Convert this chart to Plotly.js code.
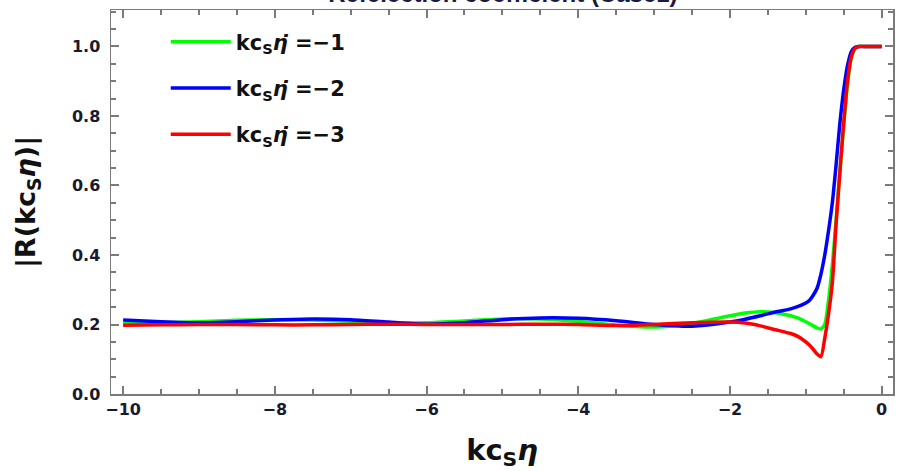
<!DOCTYPE html>
<html>
<head>
<meta charset="utf-8">
<script src="https://cdn.plot.ly/plotly-3.0.1.min.js"></script>
<style>html,body{margin:0;padding:0;background:#fff;}#chart{width:898px;height:471px;}</style>
</head>
<body>
<div id="chart"></div>
<script>
const xVals = [-10,-9.5,-9,-8.5,-8,-7.5,-7,-6.5,-6,-5.5,-5,-4.5,-4,-3.5,-3,-2.5,-2,-1.8,-1.6,-1.4,-1.2,-1.1,-1.0,-0.95,-0.9,-0.85,-0.8,-0.75,-0.7,-0.65,-0.6,-0.55,-0.5,-0.45,-0.4,-0.35,-0.3,-0.2,-0.1,0];
const greenR = [0.203,0.205,0.208,0.212,0.214,0.213,0.209,0.205,0.205,0.210,0.216,0.216,0.209,0.198,0.193,0.203,0.225,0.233,0.237,0.234,0.225,0.218,0.208,0.202,0.196,0.190,0.187,0.200,0.270,0.370,0.500,0.640,0.770,0.890,0.965,0.995,1.0,1.0,1.0,1.0];
const blueR  = [0.213,0.208,0.205,0.208,0.213,0.216,0.214,0.207,0.201,0.205,0.214,0.219,0.218,0.211,0.200,0.195,0.207,0.215,0.225,0.236,0.245,0.252,0.262,0.270,0.285,0.305,0.345,0.400,0.470,0.550,0.660,0.780,0.875,0.945,0.985,0.998,1.0,1.0,1.0,1.0];
const redR   = [0.198,0.199,0.200,0.200,0.199,0.199,0.200,0.201,0.200,0.200,0.200,0.201,0.200,0.197,0.200,0.205,0.207,0.204,0.196,0.185,0.174,0.165,0.150,0.140,0.128,0.115,0.107,0.160,0.230,0.320,0.490,0.640,0.780,0.900,0.970,0.995,1.0,1.0,1.0,1.0];
const seriesNames = ["kc<sub>S</sub><i>η̇</i> =−1","kc<sub>S</sub><i>η̇</i> =−2","kc<sub>S</sub><i>η̇</i> =−3"];
const seriesColors = ["#00ff00","#0000ff","#ff0000"];
const xTickVals = [-10,-8,-6,-4,-2,0];
const xTickText = ["−10","−8","−6","−4","−2","0"];
const yTickVals = [0,0.2,0.4,0.6,0.8,1.0];
const yTickText = ["0.0","0.2","0.4","0.6","0.8","1.0"];
const xRange = [-10.16,0.15];
const yRange = [0,1.105];

const ys = [greenR, blueR, redR];
const traces = ys.map((y,i)=>({
  x: xVals, y: y, type:'scatter', mode:'lines',
  name: seriesNames[i], legendgroup: 'g'+i,
  line:{color: seriesColors[i], width:3.5, shape:'spline', smoothing:0.6}
}));

const tickCol = '#7a7a7a';
const axisCommon = {
  showgrid:false, zeroline:false, showline:true, linecolor:tickCol, linewidth:1.5,
  mirror:'allticks', ticks:'inside', ticklen:8, tickwidth:2, tickcolor:tickCol,
  tickfont:{family:'DejaVu Sans', size:16, color:'#1a1a2e', weight:'bold'}
};

const layout = {
  width:898, height:471,
  margin:{l:111, r:5, t:10, b:77},
  paper_bgcolor:'#fff', plot_bgcolor:'#fff',
  title:{text:'Refelection coefficient (Case1)', x:0.56, xanchor:'center', y:0.995, yref:'container', yanchor:'bottom',
         font:{family:'Liberation Sans', size:24, color:'#1a1a40', weight:'bold'}},
  xaxis:Object.assign({}, axisCommon, {
    range:xRange, tickvals:xTickVals, ticktext:xTickText,
    minor:{dtick:0.5, tick0:0, ticks:'inside', ticklen:5, tickwidth:2, tickcolor:tickCol},
    title:{text:'<b>kc<sub>S</sub><i>η</i></b>', font:{family:'DejaVu Sans', size:29, color:'#111'}, standoff:28}
  }),
  yaxis:Object.assign({}, axisCommon, {
    range:yRange, tickvals:yTickVals, ticktext:yTickText, ticklabelstandoff:6,
    minor:{dtick:0.05, tick0:0, ticks:'inside', ticklen:5, tickwidth:2, tickcolor:tickCol},
    title:{text:'<b>|R(kc<sub>S</sub><i>η</i>)|</b>', font:{family:'DejaVu Sans', size:27, color:'#111'}, standoff:28}
  }),
  showlegend:true,
  legend:{x:0.07, y:0.97, xanchor:'left', yanchor:'top', bgcolor:'rgba(0,0,0,0)',
          font:{family:'DejaVu Sans', size:21, color:'#111', weight:'bold'},
          tracegroupgap:16, itemwidth:60}
};

Plotly.newPlot('chart', traces, layout, {displayModeBar:false, staticPlot:true});
</script>
</body>
</html>
